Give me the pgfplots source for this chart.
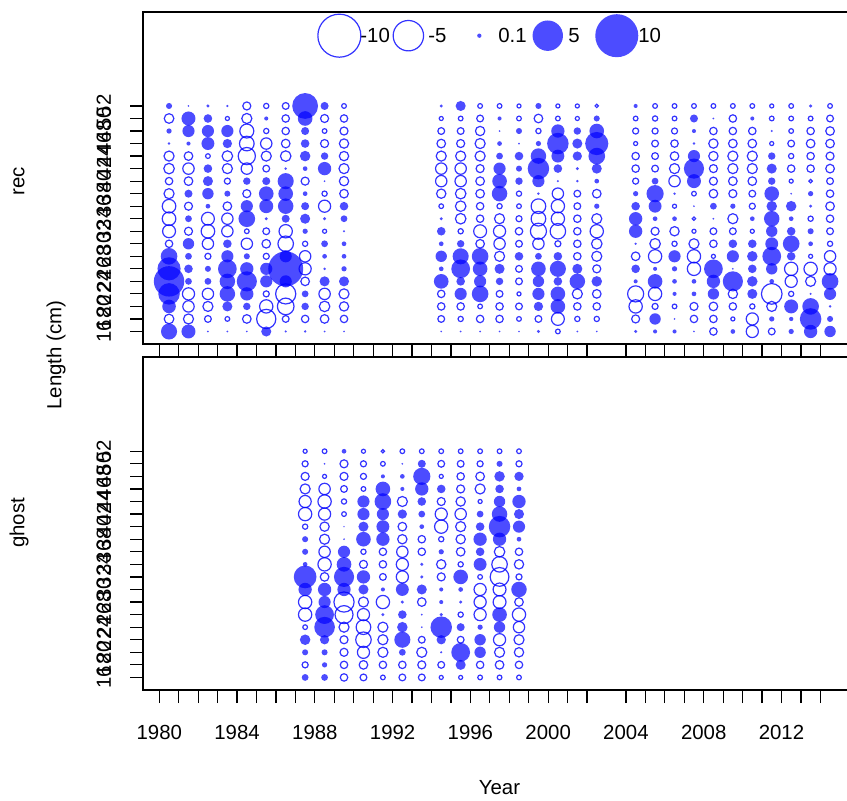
\documentclass[border=0pt]{standalone}
\usepackage{pgfplots}
\usepackage{pgfplotstable}
\pgfplotsset{compat=1.18}
\usepackage{fontspec}
\setmainfont{Liberation Sans}
\definecolor{bub}{RGB}{0,0,255}

\pgfplotstableread{
L y1980 y1981 y1982 y1983 y1984 y1985 y1986 y1987 y1988 y1989 y1994 y1995 y1996 y1997 y1998 y1999 y2000 y2001 y2002 y2004 y2005 y2006 y2007 y2008 y2009 y2010 y2011 y2012 y2013 y2014
52 0.2 0.02 0.06 0.03 -0.35 -0.15 -0.25 3.6 0.35 -0.12  0.06 0.55 -0.12 -0.12 -0.09 0.2 -0.09 -0.09 -0.06  0.09 -0.12 -0.12 -0.12 -0.12 -0.12 -0.12 -0.09 -0.12 0.06 -0.12
50 -0.5 1.06 0.4 -0.09 -0.55 0.09 -0.3 1.16 -0.35 -0.3  -0.09 -0.12 -0.25 0.09 -0.12 -0.4 -0.12 -0.09 0.2  -0.12 -0.15 -0.12 0.35 0.02 -0.3 0.09 -0.12 -0.12 -0.12 -0.25
48 0.15 0.8 0.8 0.8 -1.06 -0.15 -0.3 0.35 -0.12 -0.35  -0.25 -0.25 -0.47 0.02 0.2 -0.15 0.96 0.3 1.16  -0.2 -0.2 -0.2 0.09 -0.3 -0.3 -0.3 0.03 -0.12 -0.3 -0.4
46 0.04 0.09 0.9 0.47 -1.16 -0.7 -0.4 0.4 -0.35 -0.47  -0.4 -0.35 -0.55 0.12 0.02 0.15 2.5 0.55 2.9  -0.09 -0.25 -0.3 0.04 -0.47 -0.4 -0.4 -0.09 -0.25 -0.4 -0.4
44 -0.55 -0.4 -0.12 -0.6 -1.6 -0.55 -0.6 0.6 0.3 -0.47  -0.55 -0.55 -0.55 0.25 0.4 1.3 0.9 0.47 1.5  -0.3 -0.25 -0.4 0.8 -0.47 -0.55 -0.55 0.3 -0.15 -0.3 -0.35
42 -0.6 -0.7 0.4 -0.55 -0.7 -0.25 0.04 0.12 0.96 -0.55  -0.7 -0.7 -0.35 0.8 0.2 2.5 0.4 0.06 0.55  -0.3 -0.25 -0.55 2.2 -0.35 -0.55 -0.55 0.55 -0.3 -0.3 -0.4
40 -0.3 -0.4 0.55 -0.2 0.3 0.35 1.4 -0.35 0.02 -0.47  -0.7 -0.7 -0.4 1.16 0.3 0.8 0.03 0.04 0.12  -0.2 0.25 -0.7 1.06 -0.35 -0.4 -0.4 0.3 -0.09 -0.06 -0.25
38 -0.55 0.35 0.7 0.2 -0.35 1.16 1.16 0.12 -0.15 -0.4  -0.47 -0.6 -0.4 1.3 -0.15 0.04 -0.7 -0.25 -0.4  0.15 1.6 0.04 -0.12 -0.4 -0.35 -0.25 1.16 0.02 0.15 -0.3
36 -1.0 -0.35 0.12 -0.4 0.8 1.06 1.3 0.35 -0.8 0.4  -0.12 -0.6 -0.3 -0.15 -0.12 -1.16 -0.96 -0.25 0.15  0.4 0.9 -0.09 0.02 0.25 0.15 -0.2 0.6 0.6 0.06 -0.4
34 -1.0 0.25 -0.9 -0.7 1.5 0.06 0.35 0.55 0.06 0.25  0.06 -0.6 -0.3 -0.55 -0.2 -1.16 -0.96 -0.3 -0.55  0.96 0.12 0.12 -0.06 0.02 -0.55 0.12 1.3 0.12 -0.15 -0.3
32 -0.9 -0.35 -1.0 -0.7 -0.12 -0.25 -0.96 0.15 -0.09 0.03  0.4 -0.15 -0.9 -0.8 -0.3 -1.4 -1.3 -0.3 -0.96  0.96 -0.35 -0.47 -0.09 -0.25 -0.25 -0.09 0.7 0.4 0.2 -0.25
30 -0.3 0.7 -0.7 0.4 -0.7 -0.4 -1.3 -0.15 0.25 0.12  0.12 0.3 -0.4 -0.7 -0.25 -0.7 -0.2 -0.3 -0.6  0.03 -0.6 -0.15 -0.55 -0.3 0.4 0.4 0.9 1.5 0.12 -0.15
28 1.5 0.25 -0.2 0.8 0.2 -0.2 0.8 -0.7 0.12 0.12  0.7 1.4 1.5 -0.55 0.4 0.25 0.4 -0.3 -0.55  -0.4 -0.96 0.8 -0.96 -0.09 0.8 0.6 1.9 0.4 -0.09 -0.7
26 2.9 0.4 0.2 1.9 0.96 0.8 6.6 -0.8 0.04 0.15  0.12 1.9 1.16 0.55 -0.25 1.16 1.4 0.55 -0.35  0.4 0.09 0.15 -0.96 1.9 0.02 0.4 0.7 -0.96 -0.96 -0.8
24 5.0 0.25 0.25 1.3 2.2 0.8 0.8 -0.4 0.55 0.55  1.16 0.4 0.8 0.3 -0.25 0.7 0.4 1.3 0.6  0.09 1.16 0.12 0.12 0.96 2.2 0.6 0.12 -0.8 -0.55 1.5
22 2.5 -0.8 -0.7 1.3 0.96 -0.2 -2.2 0.25 -0.7 -0.55  -0.3 0.8 1.5 -0.25 -0.09 0.8 1.16 -0.55 -0.4  -1.4 -0.96 0.09 0.12 0.7 -0.47 0.55 -2.3 -0.15 0.03 0.8
20 1.0 -0.7 -0.55 0.55 0.3 -0.96 -1.5 0.3 -0.6 -0.47  -0.3 -0.3 -0.12 -0.3 -0.25 0.47 1.16 -0.3 -0.3  -0.96 -0.2 -0.12 -0.35 -0.4 -0.3 -0.15 -0.55 1.06 1.5 0.04
18 -0.5 -0.55 -0.25 -0.12 -0.4 -2.0 -0.25 -0.3 -0.4 -0.3  -0.25 -0.15 -0.3 -0.3 -0.12 -0.25 -0.9 -0.15 -0.15  -0.35 0.7 0.02 -0.3 -0.3 -0.09 -0.8 0.15 0.1 2.5 0.2
16 1.4 1.06 0.02 0.02 0.02 0.55 0.03 0.04 0.02 0.02  0.02 0.02 0.02 0.02 0.02 0.06 -0.12 0.02 0.02  0.06 0.09 0.09 0.02 -0.3 0.12 -0.8 -0.25 0.15 0.96 0.7
}\rectab

\pgfplotstableread{
L g1987 g1988 g1989 g1990 g1991 g1992 g1993 g1994 g1995 g1996 g1997 g1998
52 -0.09 -0.12 0.12 -0.09 -0.06 -0.12 -0.12 -0.12 -0.12 -0.12 -0.12 -0.12
50 -0.2 0.02 -0.35 -0.2 -0.12 0.02 0.35 -0.25 -0.25 -0.2 0.2 -0.2
48 -0.35 -0.09 -0.35 -0.2 0.09 0.12 1.6 -0.09 -0.3 -0.4 0.6 0.47
46 -0.55 -0.7 -0.25 -0.12 1.16 0.09 0.96 0.4 -0.35 -0.55 0.4 0.12
44 -0.8 -0.96 -0.15 0.8 1.5 -0.55 0.4 -0.35 -0.47 -0.09 0.7 0.96
42 -0.96 -0.8 -0.12 0.8 0.8 0.47 0.25 -0.8 -0.7 0.25 1.3 0.55
40 -0.15 -0.47 0.01 0.55 0.9 -0.4 0.12 -0.96 -0.55 0.4 2.5 0.8
38 0.2 -0.55 0.02 1.16 0.96 -0.47 -0.3 -0.15 -0.47 0.96 0.96 0.12
36 0.2 -0.7 0.8 -0.15 -0.3 -0.7 -0.3 0.15 -0.4 0.4 -0.6 -0.3
34 0.12 -0.96 1.16 -0.35 -0.3 -0.8 0.06 -0.47 -0.15 0.9 -1.3 -0.47
32 2.8 -0.4 2.2 0.96 -0.25 -0.8 0.06 -0.35 1.16 -0.12 -1.9 -0.2
30 0.96 0.96 0.96 0.55 0.09 0.9 0.55 0.09 0.12 -0.8 -0.9 1.3
28 -0.96 0.8 -2.2 -0.55 -0.96 0.06 -0.4 0.09 0.06 -0.8 -0.9 -0.4
26 -0.96 1.9 -1.75 -0.8 0.06 0.4 0.02 0.06 -0.15 -0.8 1.16 -0.96
24 -0.12 2.3 -0.55 -1.16 -0.55 0.6 0.02 2.5 0.35 0.15 0.7 -0.7
22 0.6 0.47 -0.35 -1.3 -0.55 1.4 -0.25 0.47 -0.25 0.7 -0.8 -0.55
20 0.2 0.2 -0.35 -0.8 -0.55 0.25 -0.55 0.03 1.9 0.7 -0.55 -0.47
18 -0.2 0.15 -0.3 -0.4 -0.3 -0.3 -0.35 -0.25 0.55 -0.3 -0.4 -0.3
16 0.25 0.25 -0.3 -0.25 -0.12 -0.25 -0.25 -0.09 -0.09 -0.12 -0.12 -0.12
}\ghosttab

\pgfplotstableread{
x y v
1989.26 63.22 -10
1992.81 63.22 -5
1996.46 63.22 0.1
1999.98 63.22 5
2003.53 63.22 10
}\legtab

\tikzset{
  posbub/.style={fill=bub, fill opacity=0.7, draw opacity=0},
  negbub/.style={draw=bub, draw opacity=0.8, fill opacity=0, line width=0.6pt},
}

\pgfplotsset{
  posb/.style={only marks, scatter, mark=*, point meta=y,
    restrict expr to domain={\thisrow{#1}}{0:1000},
    visualization depends on={3.4*sqrt(abs(\thisrow{#1})) \as \myBubR},
    scatter/@pre marker code/.code={\scope[posbub, mark size=\myBubR]},
    scatter/@post marker code/.code={\endscope}},
  negb/.style={only marks, scatter, mark=*, point meta=y,
    restrict expr to domain={\thisrow{#1}}{-1000:0},
    visualization depends on={3.4*sqrt(abs(\thisrow{#1})) \as \myBubR},
    scatter/@pre marker code/.code={\scope[negbub, mark size=\myBubR]},
    scatter/@post marker code/.code={\endscope}},
  common/.style={
    scale only axis, width=356.75pt,
    xmin=1979.16, xmax=2015.86, ymin=14, ymax=67,
    xtick={1980,1981,1982,1983,1984,1985,1986,1987,1988,1989,1990,1991,1992,1993,1994,1995,1996,1997,1998,1999,2000,2001,2002,2004,2005,2006,2007,2008,2009,2010,2011,2012,2013,2014},
    ytick={16,18,...,52},
    tick align=outside, tick pos=left,
    major tick length=6.5pt,
    every tick/.style={black, line width=0.6pt},
    axis line style={line width=0.6pt},
    /pgf/number format/assume math mode=true,
    tick label style={font=\fontsize{10.2}{10}\selectfont, inner sep=0pt},
    yticklabel style={rotate=90, anchor=south, outer ysep=9.5pt},
    xticklabel style={anchor=north, outer ysep=11pt},
  },
}

\begin{document}
\begin{tikzpicture}[font=\fontsize{10.2}{11}\selectfont]
\begin{axis}[common, at={(71.5pt,228pt)}, anchor=south west, height=166pt, xticklabels={}]
\pgfplotsinvokeforeach{1980,1981,1982,1983,1984,1985,1986,1987,1988,1989,1994,1995,1996,1997,1998,1999,2000,2001,2002,2004,2005,2006,2007,2008,2009,2010,2011,2012,2013,2014}{
  \addplot[negb=y#1] table[x expr=#1+0.5, y=L]{\rectab};
  \addplot[posb=y#1] table[x expr=#1+0.5, y=L]{\rectab};
}
\addplot[negb=v] table[x=x, y=y]{\legtab};
\addplot[posb=v] table[x=x, y=y]{\legtab};
\node[anchor=west, inner sep=0pt] at (axis cs:1990.32,63.22) {-10};
\node[anchor=west, inner sep=0pt] at (axis cs:1993.82,63.22) {-5};
\node[anchor=west, inner sep=0pt] at (axis cs:1997.42,63.22) {0.1};
\node[anchor=west, inner sep=0pt] at (axis cs:2001.02,63.22) {5};
\node[anchor=west, inner sep=0pt] at (axis cs:2004.62,63.22) {10};
\end{axis}
\begin{axis}[common, at={(71.5pt,55pt)}, anchor=south west, height=166.5pt,
  xticklabels={1980,,,,1984,,,,1988,,,,1992,,,,1996,,,,2000,,,2004,,,,2008,,,,2012,,}]
\pgfplotsinvokeforeach{1987,1988,1989,1990,1991,1992,1993,1994,1995,1996,1997,1998}{
  \addplot[negb=g#1] table[x expr=#1+0.5, y=L]{\ghosttab};
  \addplot[posb=g#1] table[x expr=#1+0.5, y=L]{\ghosttab};
}
\end{axis}
\node at (249.75pt,6pt) {Year};
\node[rotate=90] at (28pt,222.5pt) {Length (cm)};
\node[rotate=90] at (9.5pt,309.5pt) {rec};
\node[rotate=90] at (9.5pt,138.5pt) {ghost};
\pgfresetboundingbox
\path[use as bounding box] (0,0) rectangle (423.5pt,400pt);
\end{tikzpicture}
\end{document}
